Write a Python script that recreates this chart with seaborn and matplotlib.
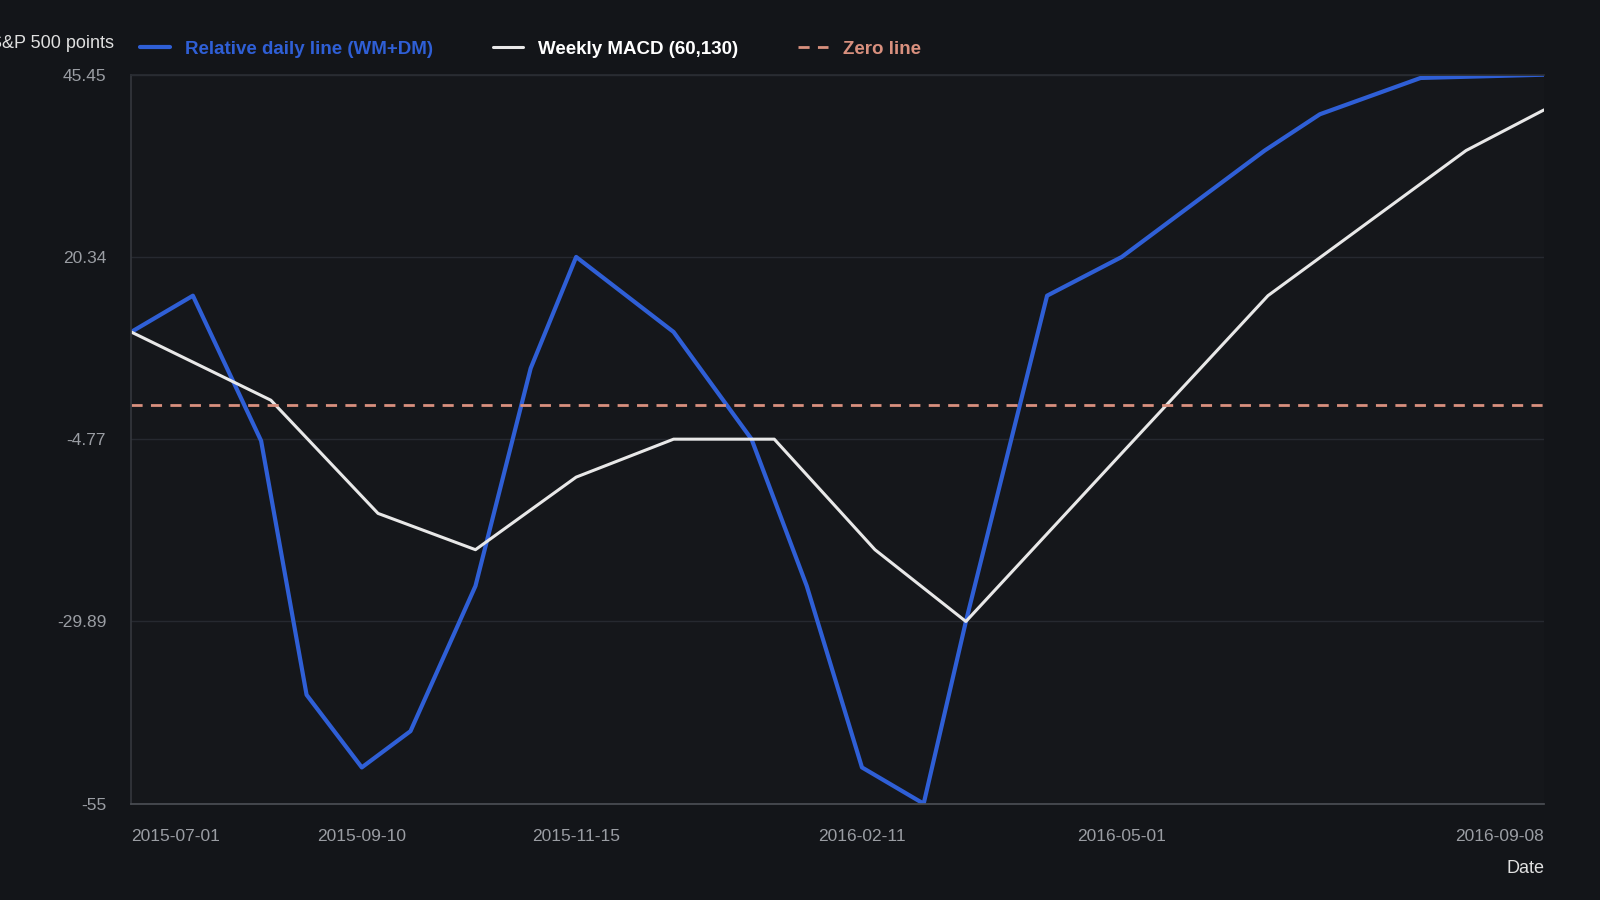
import pandas as pd
import matplotlib.pyplot as plt
import matplotlib.dates as mdates
import seaborn as sns

blue_dates = ['2015-07-01', '2015-07-20', '2015-08-10', '2015-08-24', '2015-09-10', '2015-09-25',
              '2015-10-15', '2015-11-01', '2015-11-15', '2015-12-15', '2016-01-08', '2016-01-25',
              '2016-02-11', '2016-03-01', '2016-03-14', '2016-04-08', '2016-05-01', '2016-06-14',
              '2016-07-01', '2016-08-01', '2016-09-08']
blue_vals = [10, 15, -5, -40, -50, -45, -25, 5, 20.34, 10, -4.77, -25, -50, -55, -29.89, 15, 20.34,
             35, 40, 45, 45.45]
white_dates = ['2015-07-01', '2015-08-13', '2015-09-15', '2015-10-15', '2015-11-15', '2015-12-15',
               '2016-01-15', '2016-02-15', '2016-03-14', '2016-05-01', '2016-06-15', '2016-08-15',
               '2016-09-08']
white_vals = [10, 0.6, -15, -20, -10, -4.77, -4.77, -20, -29.89, -6.7, 15, 35, 40.6]
yticks = [-55, -29.89, -4.77, 20.34, 45.45]
xticks = ['2015-07-01', '2015-09-10', '2015-11-15', '2016-02-11', '2016-05-01', '2016-09-08']

BG = '#131519'
blue = pd.DataFrame({'date': pd.to_datetime(blue_dates), 'v': blue_vals})
white = pd.DataFrame({'date': pd.to_datetime(white_dates), 'v': white_vals})

sns.set_theme(style='dark')
plt.rcParams['font.family'] = ['Liberation Sans', 'DejaVu Sans']
fig, ax = plt.subplots(figsize=(16, 9), dpi=100)
fig.patch.set_facecolor(BG)
ax.set_facecolor('#15171b')
fig.subplots_adjust(left=0.082, right=0.965, top=0.917, bottom=0.107)

sns.lineplot(data=blue, x='date', y='v', ax=ax, color='#2f5fd6', lw=3, label='Relative daily line (WM+DM)')
sns.lineplot(data=white, x='date', y='v', ax=ax, color='#e8e8e8', lw=2.2, label='Weekly MACD (60,130)')
ax.axhline(0, color='#d9907e', lw=2, ls=(0, (4, 3)), label='Zero line')

x0, x1 = pd.to_datetime(xticks[0]), pd.to_datetime(xticks[-1])
ax.set_xlim(x0, x1)
ax.set_ylim(-55, 45.45)
ax.set_yticks(yticks)
ax.set_yticklabels([f'{t:g}' for t in yticks])
ax.set_xticks(pd.to_datetime(xticks))
ax.xaxis.set_major_formatter(mdates.DateFormatter('%Y-%m-%d'))
labs = ax.get_xticklabels()
labs[0].set_ha('left'); labs[-1].set_ha('right')
ax.tick_params(colors='#9a9da3', labelsize=12.5, length=0)
ax.tick_params(axis='y', pad=18)
ax.tick_params(axis='x', length=8, color='#6a6d73', pad=10)
ax.grid(axis='y', color='#262930', lw=1)
ax.spines['right'].set_visible(False)
ax.spines['left'].set_color('#33363c')
ax.spines['bottom'].set_color('#4a4d53')
ax.spines['top'].set_color('#2a2d33')
ax.set_xlabel('')
ax.set_ylabel('')
fig.text(0.965, 0.03, 'Date', color='#e0e0e0', ha='right', fontsize=13)
fig.text(0.071, 0.952, 'S&P 500 points', color='#e0e0e0', ha='right', va='center', fontsize=13)

leg = ax.legend(loc='lower left', bbox_to_anchor=(-0.003, 1.005), ncol=3, frameon=False,
                fontsize=13.5, handlelength=1.6, columnspacing=3.2, borderaxespad=0.3)
for t, c in zip(leg.get_texts(), ['#2f5fd6', '#ffffff', '#d9907e']):
    t.set_color(c); t.set_fontweight('bold')

fig.savefig('out.png', dpi=100, facecolor=BG)
